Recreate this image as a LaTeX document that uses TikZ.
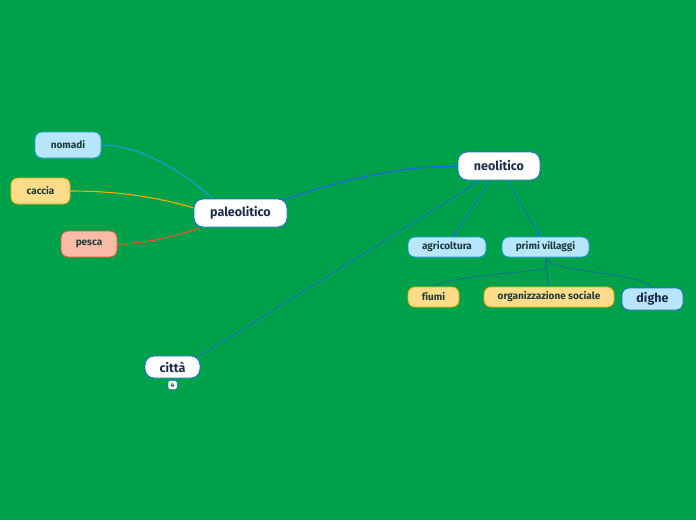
\documentclass[tikz,border=0pt]{standalone}
\usepackage{fontspec}
\setmainfont{Fira Sans}[Ligatures=NoCommon]
\usetikzlibrary{arrows.meta}
\pgfdeclarelayer{canvas}
\pgfdeclarelayer{edges}
\pgfsetlayers{canvas,edges,main}
\definecolor{bg}{HTML}{00A14B}
\definecolor{navy}{HTML}{1B2B4E}
\definecolor{dgreen}{HTML}{1E3B3B}
\definecolor{lblue}{HTML}{B8E6FC}
\definecolor{lbluebd}{HTML}{1A9BDB}
\definecolor{lyel}{HTML}{FFDC8A}
\definecolor{yelbd}{HTML}{F0B000}
\definecolor{salm}{HTML}{F9BBA8}
\definecolor{salmbd}{HTML}{E8532B}
\definecolor{mblue}{HTML}{1A6FD0}
\tikzset{
  x=1pt,y=-1pt,
  mainbox/.style={draw=mblue,fill=white,line width=0.9pt,rounded corners=9pt,text=navy,font=\fontsize{12.5}{13}\selectfont\bfseries,inner sep=0pt},
  subbox/.style={rounded corners=7pt,line width=0.8pt,text=dgreen,font=\fontsize{10}{11}\selectfont\bfseries,inner sep=0pt},
  bluebox/.style={subbox,draw=lbluebd,fill=lblue},
  yelbox/.style={subbox,draw=yelbd,fill=lyel},
  salbox/.style={subbox,draw=salmbd,fill=salm},
  conn/.style={line width=1.1pt},
  thinconn/.style={line width=0.8pt,draw=mblue},
  hairconn/.style={line width=0.6pt,draw=mblue!85!black},
  tipstyle/.style={-{Stealth[length=5pt,width=5pt]}},
}
\begin{document}
\begin{tikzpicture}
\begin{pgfonlayer}{canvas}
\fill[bg] (0,0) rectangle (696,520);
\end{pgfonlayer}
\useasboundingbox (0,0) rectangle (696,520);
\node[mainbox,minimum width=93pt,minimum height=28pt] (pal) at (240.5,213) {paleolitico};
\node[mainbox,minimum width=82pt,minimum height=28pt] (neo) at (499,166) {neolitico};
\node[mainbox,minimum width=55pt,minimum height=22pt] (cit) at (172.5,367) {città};
\node[bluebox,minimum width=66pt,minimum height=26pt] (nom) at (68,145) {nomadi};
\node[yelbox,minimum width=59pt,minimum height=26pt] (cac) at (40.5,191) {caccia};
\node[salbox,minimum width=56pt,minimum height=26pt] (pes) at (89,244) {pesca};
\node[bluebox,minimum width=78pt,minimum height=20pt] (agr) at (447,247) {agricoltura};
\node[bluebox,minimum width=87pt,minimum height=20pt] (pri) at (545.5,247) {primi villaggi};
\node[yelbox,minimum width=51pt,minimum height=20pt] (fiu) at (433.5,297) {fiumi};
\node[yelbox,minimum width=130pt,minimum height=20pt] (org) at (549,297) {organizzazione sociale};
\node[bluebox,draw=mblue,text=navy,minimum width=61pt,minimum height=22pt,font=\fontsize{12.5}{13}\selectfont\bfseries] (dig) at (652.5,299) {dighe};
\node[draw=mblue,fill=white,rounded corners=1.5pt,line width=0.5pt,inner sep=1pt,minimum width=9pt,minimum height=9pt,text=navy,font=\fontsize{6}{6}\selectfont\bfseries] (badge) at (172.5,385) {4};
\coordinate (pa1) at (213,199);
\coordinate (pa2) at (194,208);
\coordinate (pa3) at (200,228);
\coordinate (pa4) at (283,200);
\coordinate (ne1) at (480,181);
\coordinate (ne2) at (490,181);
\coordinate (ne3) at (508,181);
\coordinate (pv) at (546,258);
\coordinate (agrtop) at (453,237);
\coordinate (pritop) at (540,237);
\begin{pgfonlayer}{edges}
\draw[conn,draw=lbluebd] (pa1) .. controls (170,160) and (130,145) .. (nom.east);
\draw[conn,draw=yelbd] (pa2) .. controls (150,195) and (110,191) .. (cac.east);
\draw[conn,draw=salmbd] (pa3) .. controls (170,238) and (140,244) .. (pes.east);
\draw[line width=1.5pt,draw=mblue] (pa4) .. controls (340,180) and (400,166) .. (neo.west);
\draw[thinconn] (ne1) -- (cit.north east);
\draw[hairconn] (pv) -- (546,268) .. controls (540,272) and (450,275) .. (fiu.north);
\draw[hairconn] (pv) -- (547,270) -- (org.north);
\draw[hairconn] (pv) .. controls (548,272) and (640,272) .. (dig.north);
\end{pgfonlayer}
\draw[thinconn,tipstyle] (ne2) -- (agrtop);
\draw[thinconn,tipstyle] (ne3) -- (pritop);
\end{tikzpicture}
\end{document}
